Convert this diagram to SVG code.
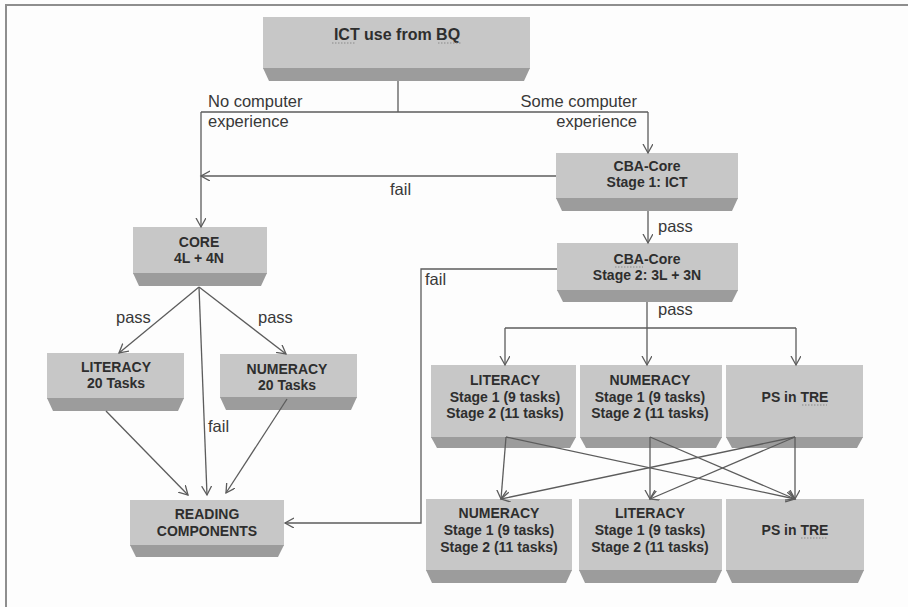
<svg xmlns="http://www.w3.org/2000/svg" width="908" height="607" viewBox="0 0 908 607">
  <defs>
    <style>
      .face { fill: #c7c7c7; }
      .band { fill: #9c9c9c; }
      .nt { font-family: "Liberation Sans", Arial, sans-serif; font-weight: bold; font-size: 14px; fill: #2e2e2e; text-anchor: middle; }
      .lbl { font-family: "Liberation Sans", Arial, sans-serif; font-size: 16.5px; fill: #383838; }
      .wire { fill: none; stroke: #5c5c5c; stroke-width: 1.3; }
      .arr { marker-end: url(#open); }
      .squig { fill: none; stroke: #8a8a8a; stroke-width: 1.2; stroke-dasharray: 1.5 1.5; }
    </style>
    <marker id="open" markerUnits="userSpaceOnUse" markerWidth="12" markerHeight="12" refX="9" refY="5" orient="auto">
      <path d="M0,0 L9,5 L0,10" fill="none" stroke="#5c5c5c" stroke-width="1.3"/>
    </marker>
  </defs>

  <rect width="908" height="607" fill="#fdfdfd"/>
  <!-- outer frame -->
  <path d="M6,607 V5 H908" fill="none" stroke="#8e8e8e" stroke-width="2"/>

  <!-- nodes -->
  <g id="ict-bq">
    <rect class="face" x="263" y="17" width="267" height="52"/>
    <polygon class="band" points="263,68 530,68 524,81 269,81"/>
    <text class="nt" x="397" y="40" style="font-size:16px">ICT use from BQ</text>
    <path class="squig" d="M332,43 H356 M438,43 H462"/>
  </g>

  <g id="cba-stage1">
    <rect class="face" x="556" y="153" width="182" height="46"/>
    <polygon class="band" points="556,198 738,198 732,211 562,211"/>
    <text class="nt" x="647" y="171">CBA-Core</text>
    <text class="nt" x="647" y="187">Stage 1: ICT</text>
  </g>

  <g id="cba-stage2">
    <rect class="face" x="557" y="243" width="181" height="48"/>
    <polygon class="band" points="557,290 738,290 732,302 563,302"/>
    <text class="nt" x="647" y="264">CBA-Core</text>
    <text class="nt" x="647" y="280">Stage 2: 3L + 3N</text>
    <path class="squig" d="M615,267 H643"/>
  </g>

  <g id="core">
    <rect class="face" x="133" y="227" width="134" height="47"/>
    <polygon class="band" points="133,273 267,273 261,286 139,286"/>
    <text class="nt" x="199" y="247">CORE</text>
    <text class="nt" x="199" y="263">4L + 4N</text>
  </g>

  <g id="literacy-20">
    <rect class="face" x="47" y="353" width="137" height="46"/>
    <polygon class="band" points="47,398 184,398 178,411 53,411"/>
    <text class="nt" x="116" y="372">LITERACY</text>
    <text class="nt" x="116" y="388">20 Tasks</text>
  </g>

  <g id="numeracy-20">
    <rect class="face" x="220" y="354" width="137" height="44"/>
    <polygon class="band" points="220,397 357,397 351,410 226,410"/>
    <text class="nt" x="287" y="374">NUMERACY</text>
    <text class="nt" x="287" y="390">20 Tasks</text>
  </g>

  <g id="reading-components">
    <rect class="face" x="130" y="500" width="154" height="46"/>
    <polygon class="band" points="130,545 284,545 278,557 136,557"/>
    <text class="nt" x="207" y="519">READING</text>
    <text class="nt" x="207" y="536">COMPONENTS</text>
  </g>

  <g id="literacy-s1">
    <rect class="face" x="431" y="365" width="145" height="73"/>
    <polygon class="band" points="431,437 576,437 570,448 437,448"/>
    <text class="nt" x="505" y="385">LITERACY</text>
    <text class="nt" x="505" y="402">Stage 1 (9 tasks)</text>
    <text class="nt" x="505" y="418">Stage 2 (11 tasks)</text>
  </g>

  <g id="numeracy-s1">
    <rect class="face" x="580" y="365" width="142" height="73"/>
    <polygon class="band" points="580,437 722,437 716,448 586,448"/>
    <text class="nt" x="650" y="385">NUMERACY</text>
    <text class="nt" x="650" y="402">Stage 1 (9 tasks)</text>
    <text class="nt" x="650" y="418">Stage 2 (11 tasks)</text>
  </g>

  <g id="ps-tre-s1">
    <rect class="face" x="726" y="365" width="137" height="73"/>
    <polygon class="band" points="726,437 863,437 857,448 732,448"/>
    <text class="nt" x="795" y="402">PS in TRE</text>
    <path class="squig" d="M802,405 H827"/>
  </g>

  <g id="numeracy-s2">
    <rect class="face" x="426" y="499" width="146" height="72"/>
    <polygon class="band" points="426,570 572,570 566,583 432,583"/>
    <text class="nt" x="499" y="518">NUMERACY</text>
    <text class="nt" x="499" y="535">Stage 1 (9 tasks)</text>
    <text class="nt" x="499" y="552">Stage 2 (11 tasks)</text>
  </g>

  <g id="literacy-s2">
    <rect class="face" x="579" y="499" width="143" height="72"/>
    <polygon class="band" points="579,570 722,570 716,583 585,583"/>
    <text class="nt" x="650" y="518">LITERACY</text>
    <text class="nt" x="650" y="535">Stage 1 (9 tasks)</text>
    <text class="nt" x="650" y="552">Stage 2 (11 tasks)</text>
  </g>

  <g id="ps-tre-s2">
    <rect class="face" x="726" y="499" width="138" height="72"/>
    <polygon class="band" points="726,570 864,570 858,583 732,583"/>
    <text class="nt" x="795" y="535">PS in TRE</text>
    <path class="squig" d="M801,538 H827"/>
  </g>

  <!-- connectors -->
  <g id="connectors">
    <path class="wire" d="M398,81 V112 M201,112 H648"/>
    <path class="wire arr" d="M201,112 V227"/>
    <path class="wire arr" d="M648,112 V153"/>
    <path class="wire arr" d="M556,176 H201"/>
    <path class="wire arr" d="M648,211 V243"/>
    <path class="wire arr" d="M557,269 H421 V523 H285"/>
    <path class="wire arr" d="M647,302 V365"/>
    <path class="wire" d="M505,328 H796"/>
    <path class="wire arr" d="M505,328 V365"/>
    <path class="wire arr" d="M796,328 V365"/>

    <path class="wire arr" d="M199,287 L119,353"/>
    <path class="wire arr" d="M199,287 L286,354"/>
    <path class="wire arr" d="M199,287 L207,495"/>
    <path class="wire arr" d="M106,411 L188,495"/>
    <path class="wire arr" d="M287,399 L226,493"/>

    <path class="wire arr" d="M506,437 L501,499"/>
    <path class="wire arr" d="M506,437 L795,499"/>
    <path class="wire arr" d="M650,437 L650,499"/>
    <path class="wire arr" d="M650,437 L795,499"/>
    <path class="wire arr" d="M795,437 L795,499"/>
    <path class="wire arr" d="M795,437 L501,499"/>
    <path class="wire arr" d="M795,437 L650,499"/>
  </g>

  <!-- edge labels -->
  <g id="labels">
    <text class="lbl" x="208" y="107">No computer</text>
    <text class="lbl" x="208" y="127">experience</text>
    <text class="lbl" x="637" y="107" text-anchor="end">Some computer</text>
    <text class="lbl" x="637" y="127" text-anchor="end">experience</text>
    <text class="lbl" x="390" y="195">fail</text>
    <text class="lbl" x="658" y="232">pass</text>
    <text class="lbl" x="425" y="285">fail</text>
    <text class="lbl" x="658" y="315">pass</text>
    <text class="lbl" x="116" y="323">pass</text>
    <text class="lbl" x="258" y="323">pass</text>
    <text class="lbl" x="208" y="432">fail</text>
  </g>
</svg>
